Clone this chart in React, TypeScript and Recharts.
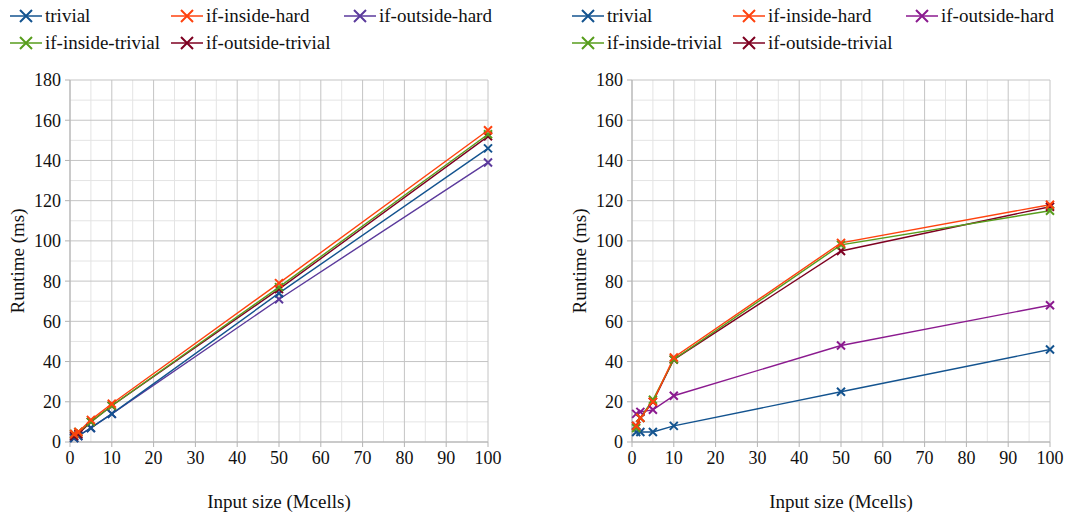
import { CartesianGrid, Line, LineChart, XAxis, YAxis } from "recharts";

// Input sizes (Mcells) shared by both panels
const SIZES = [1, 2, 5, 10, 50, 100];
const SERIES = ["trivial", "if-inside-hard", "if-outside-hard", "if-inside-trivial", "if-outside-trivial"];

// left panel, runtime (ms)
const LEFT_TRIVIAL = [2, 3, 7, 14, 74, 146];
const LEFT_INSIDE_HARD = [4, 5, 11, 19, 79, 155];
const LEFT_OUTSIDE_HARD = [2, 3, 7, 14, 71, 139];
const LEFT_INSIDE_TRIVIAL = [4, 5, 10, 18, 77, 153];
const LEFT_OUTSIDE_TRIVIAL = [3, 4, 10, 18, 76, 152];

// right panel, runtime (ms)
const RIGHT_TRIVIAL = [5, 5, 5, 8, 25, 46];
const RIGHT_INSIDE_HARD = [8, 12, 20, 42, 99, 118];
const RIGHT_OUTSIDE_HARD = [14, 15, 16, 23, 48, 68];
const RIGHT_INSIDE_TRIVIAL = [7, 12, 21, 41, 98, 115];
const RIGHT_OUTSIDE_TRIVIAL = [8, 12, 20, 41, 95, 117];

const X_TICKS = [0, 10, 20, 30, 40, 50, 60, 70, 80, 90, 100];
const X_MINOR = [5, 15, 25, 35, 45, 55, 65, 75, 85, 95];
const Y_TICKS = [0, 20, 40, 60, 80, 100, 120, 140, 160, 180];
const Y_MINOR = [10, 30, 50, 70, 90, 110, 130, 150, 170];

const LEFT_COLORS = ["#13538f", "#ff420e", "#5b3a9c", "#579d1c", "#7e0021"];
const RIGHT_COLORS = ["#13538f", "#ff420e", "#8b1a8f", "#579d1c", "#7e0021"];

// draw order: later lines sit on top
const DRAW_ORDER = [2, 0, 4, 3, 1];

const FONT = '"Liberation Serif", "DejaVu Serif", serif';
const MAJOR = "#c4c4c4";
const MINOR = "#e4e4e4";

function rows(series: number[][]) {
  return SIZES.map((x, i) => {
    const r: Record<string, number> = { x };
    series.forEach((s, k) => (r[SERIES[k]] = s[i]));
    return r;
  });
}

const crossDot = (color: string) => (p: any) => {
  const { cx, cy, index } = p;
  if (cx == null || cy == null) return <g key={index} />;
  const d = 4;
  return (
    <path
      key={index}
      d={`M${cx - d},${cy - d}L${cx + d},${cy + d}M${cx - d},${cy + d}L${cx + d},${cy - d}`}
      stroke={color}
      strokeWidth={2}
      fill="none"
    />
  );
};

function LegendBlock({ colors }: { colors: string[] }) {
  const cols = [10, 171, 344];
  return (
    <>
      {SERIES.map((name, i) => {
        const left = cols[i % 3];
        const top = i < 3 ? 16 : 43;
        return (
          <div
            key={name}
            style={{ position: "absolute", left, top: top - 11, height: 22, display: "flex", alignItems: "center", whiteSpace: "nowrap" }}
          >
            <svg width={32} height={16} style={{ marginRight: 3 }}>
              <line x1={0} y1={8} x2={32} y2={8} stroke={colors[i]} strokeWidth={1.5} />
              <path d="M10,2L22,14M10,14L22,2" stroke={colors[i]} strokeWidth={2} />
            </svg>
            <span style={{ fontFamily: FONT, fontSize: 19, color: "#111" }}>{name}</span>
          </div>
        );
      })}
    </>
  );
}

const tickStyle = { fill: "#111", fontSize: 18, fontFamily: FONT };

function Panel({ left, width, data, colors }: { left: number; width: number; data: number[][]; colors: string[] }) {
  const tbl = rows(data);
  return (
    <div style={{ position: "absolute", left, top: 0, width, height: 516 }}>
      <LegendBlock colors={colors} />
      <LineChart width={width} height={516} data={tbl} margin={{ top: 80, right: width - 488, bottom: 4, left: 10 }}>
        <CartesianGrid stroke={MINOR} horizontalValues={Y_MINOR} verticalValues={X_MINOR} />
        <CartesianGrid stroke={MAJOR} horizontalValues={Y_TICKS} verticalValues={X_TICKS} />
        <XAxis
          dataKey="x"
          type="number"
          domain={[0, 100]}
          ticks={X_TICKS}
          interval={0}
          height={70}
          stroke="#b3b3b3"
          tickSize={5}
          tickMargin={4}
          tick={tickStyle}
          label={{ value: "Input size (Mcells)", position: "insideBottom", offset: 4, fill: "#111", fontSize: 19, fontFamily: FONT }}
        />
        <YAxis
          type="number"
          domain={[0, 180]}
          ticks={Y_TICKS}
          interval={0}
          width={60}
          stroke="#b3b3b3"
          tickSize={5}
          tickMargin={4}
          tick={tickStyle}
          label={{
            value: "Runtime (ms)",
            angle: -90,
            position: "insideLeft",
            offset: 7,
            fill: "#111",
            fontSize: 19,
            fontFamily: FONT,
            style: { textAnchor: "middle" },
          }}
        />
        {DRAW_ORDER.map((k) => (
          <Line
            key={SERIES[k]}
            dataKey={SERIES[k]}
            type="linear"
            stroke={colors[k]}
            strokeWidth={1.4}
            dot={crossDot(colors[k])}
            activeDot={false}
            isAnimationActive={false}
          />
        ))}
      </LineChart>
    </div>
  );
}

export default function App() {
  return (
    <div
      style={{ position: "absolute", left: 0, top: 0, width: 1067, height: 516, background: "#fff", overflow: "hidden", fontFamily: FONT }}
    >
      <Panel
        left={0}
        width={533}
        colors={LEFT_COLORS}
        data={[LEFT_TRIVIAL, LEFT_INSIDE_HARD, LEFT_OUTSIDE_HARD, LEFT_INSIDE_TRIVIAL, LEFT_OUTSIDE_TRIVIAL]}
      />
      <Panel
        left={562}
        width={505}
        colors={RIGHT_COLORS}
        data={[RIGHT_TRIVIAL, RIGHT_INSIDE_HARD, RIGHT_OUTSIDE_HARD, RIGHT_INSIDE_TRIVIAL, RIGHT_OUTSIDE_TRIVIAL]}
      />
    </div>
  );
}
